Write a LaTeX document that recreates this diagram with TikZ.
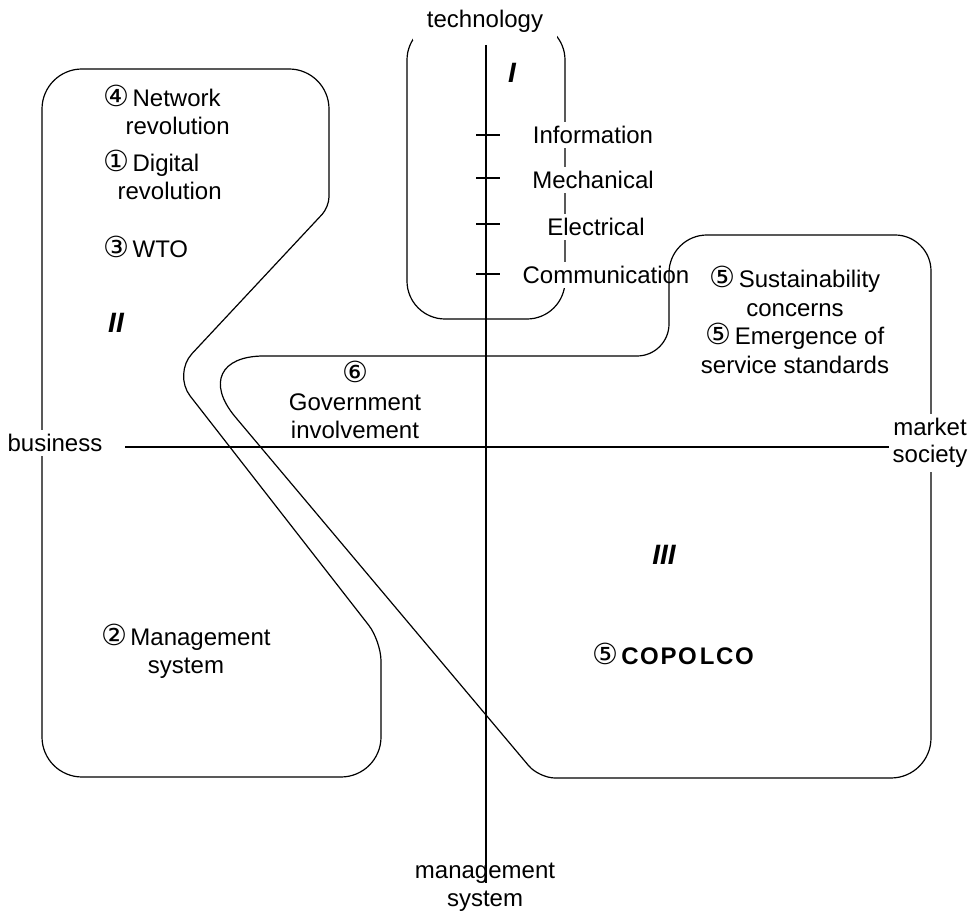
\documentclass[tikz,border=0pt]{standalone}
\usepackage{fontspec}
\setmainfont{Liberation Sans}
\newfontfamily\circfont{DejaVu Sans}
\newcommand{\circnum}[1]{{\circfont\fontsize{14.5}{14.2}\selectfont #1}\kern1.5pt}
\tikzset{
  lbl/.style={inner sep=0pt, font=\fontsize{12}{14.2}\selectfont, align=center},
  wlbl/.style={lbl, fill=white, inner sep=2pt},
  roman/.style={inner sep=0pt, font=\fontsize{14}{14}\selectfont\bfseries\itshape}
}
\begin{document}
\begin{tikzpicture}[x=0.5pt, y=-0.5pt, line width=0.6pt]
	\useasboundingbox (0,0) rectangle (970,913);
	% technology box
	\draw[rounded corners=19pt] (407,22) rectangle (565,319);
	% business box
	\draw[rounded corners=20pt] (42,400) -- (42,69) -- (329,69) [rounded corners=5pt] -- (329,207) [rounded corners=14pt] -- (173,374) [rounded corners=10pt] -- (381,641) [rounded corners=20pt] -- (381,777) -- (42,777) -- cycle;
	% axes
	\coordinate (ytop) at (486,45);
	\coordinate (ybot) at (486,883);
	\coordinate (xleft) at (125,447);
	\coordinate (xright) at (890,447);
	\draw (ytop) -- (ybot);
	\draw (xleft) -- (xright);
	\foreach \ty in {135,178,224,274}
		\draw (476,\ty) -- (500,\ty);
	% technology steps
	\node[wlbl] (info) at (593,135) {Information};
	\node[wlbl] (mech) at (593,180) {Mechanical};
	\node[wlbl] (elec) at (596,227) {Electrical};
	\node[wlbl] (comm) at (606,275) {Communication};
	% market society box
	\draw[rounded corners=20pt] (931,500) -- (931,778) [rounded corners=8pt] -- (539,778) [rounded corners=40pt] -- (184,356) [rounded corners=16pt] -- (669,356) [rounded corners=19pt] -- (669,235) [rounded corners=18pt] -- (931,235) [rounded corners=20pt] -- cycle;
	% axis labels
	\node[wlbl, minimum width=72pt, minimum height=19pt] (tech) at (485,21) {technology};
	\node[lbl] (mgmt) at (485,887) {management\\system};
	\node[wlbl] (bus) at (55,443) {business};
	\node[wlbl, font=\fontsize{12}{13.5}\selectfont] (mkt) at (930,443) {market\\society};
	% quadrant numerals
	\node[roman] (q1) at (512,73) {I};
	\node[roman] (q2) at (116,323) {II};
	\node[roman] (q3) at (664,555) {III};
	% events
	\node[lbl, align=left, anchor=west] (net) at (103,110) {\circnum{④}Network\\\hspace*{11pt}revolution};
	\node[lbl, align=left, anchor=west] (dig) at (103,175) {\circnum{①}Digital\\\hspace*{7pt}revolution};
	\node[lbl, anchor=west] (wto) at (103,247) {\circnum{③}WTO};
	\node[lbl] (ms) at (186,651) {\circnum{②}Management\\system};
	\node[lbl] (gov) at (355,400) {{\circfont\fontsize{14.5}{14.2}\selectfont ⑥}\\Government\\involvement};
	\node[lbl] (sus) at (795,320) {\circnum{⑤}Sustainability\\concerns\\\circnum{⑤}Emergence of\\service standards};
	\node[lbl] (cop) at (673,654) {\circnum{⑤}{\bfseries C\kern0.8ptO\kern0.8ptP\kern0.8ptO\kern1.5ptL\kern0.8ptC\kern0.8ptO}};
\end{tikzpicture}
\end{document}
